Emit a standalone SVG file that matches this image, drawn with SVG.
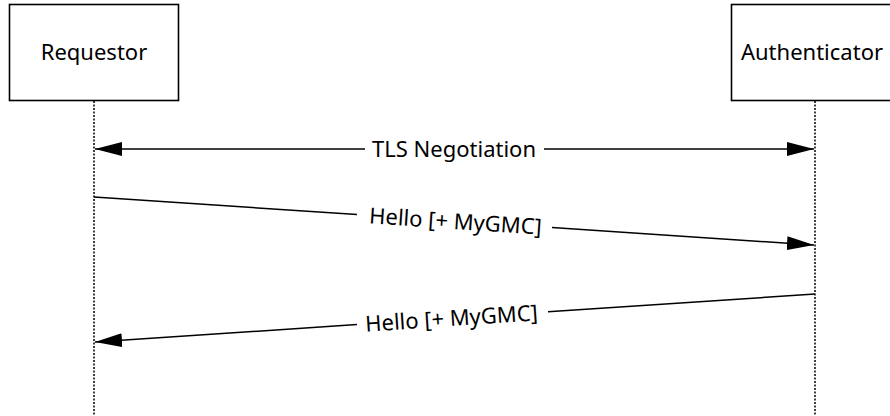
<svg xmlns="http://www.w3.org/2000/svg" width="890" height="416" viewBox="0 0 890 416">
<style>
.box{fill:#fff;stroke:#000;stroke-width:1.6}
.life{stroke:#000;stroke-width:1.5;stroke-dasharray:2 1.5;fill:none}
.msg{stroke:#000;stroke-width:1.5;fill:none}
text{font-family:"Noto Sans","Open Sans",sans-serif;font-size:22px;fill:#000}
.lbl{text-anchor:middle}
</style>
<defs>
<marker id="ah" viewBox="0 0 10 10" refX="10" refY="5" markerWidth="27" markerHeight="14" markerUnits="userSpaceOnUse" orient="auto" preserveAspectRatio="none">
<path d="M0,0 L10,5 L0,10 z" fill="#000"/>
</marker>
</defs>
<rect width="890" height="416" fill="#fff"/>
<g id="requestor">
<rect class="box" x="9.5" y="4.5" width="169" height="96"/>
<text class="lbl" x="94" y="60">Requestor</text>
</g>
<g id="authenticator">
<rect class="box" x="731.5" y="4.5" width="170" height="96"/>
<text class="lbl" x="812" y="60">Authenticator</text>
</g>
<g id="connectors">
<line class="life" x1="94" y1="101" x2="94" y2="416"/>
<line class="life" x1="815" y1="101" x2="815" y2="416"/>
<line class="msg" x1="365" y1="149" x2="95" y2="149" marker-end="url(#ah)"/>
<line class="msg" x1="544" y1="149" x2="814" y2="149" marker-end="url(#ah)"/>
<text class="lbl" x="454" y="157">TLS Negotiation</text>
<line class="msg" x1="94" y1="197" x2="357" y2="214.5"/>
<line class="msg" x1="552" y1="227.5" x2="814" y2="245" marker-end="url(#ah)"/>
<text class="lbl" transform="translate(455,229) rotate(3.8)">Hello [+ MyGMC]</text>
<line class="msg" x1="815" y1="294" x2="548" y2="311.8"/>
<line class="msg" x1="357" y1="324.5" x2="95" y2="342" marker-end="url(#ah)"/>
<text class="lbl" transform="translate(452,326) rotate(-3.8)">Hello [+ MyGMC]</text>
</g>
</svg>
